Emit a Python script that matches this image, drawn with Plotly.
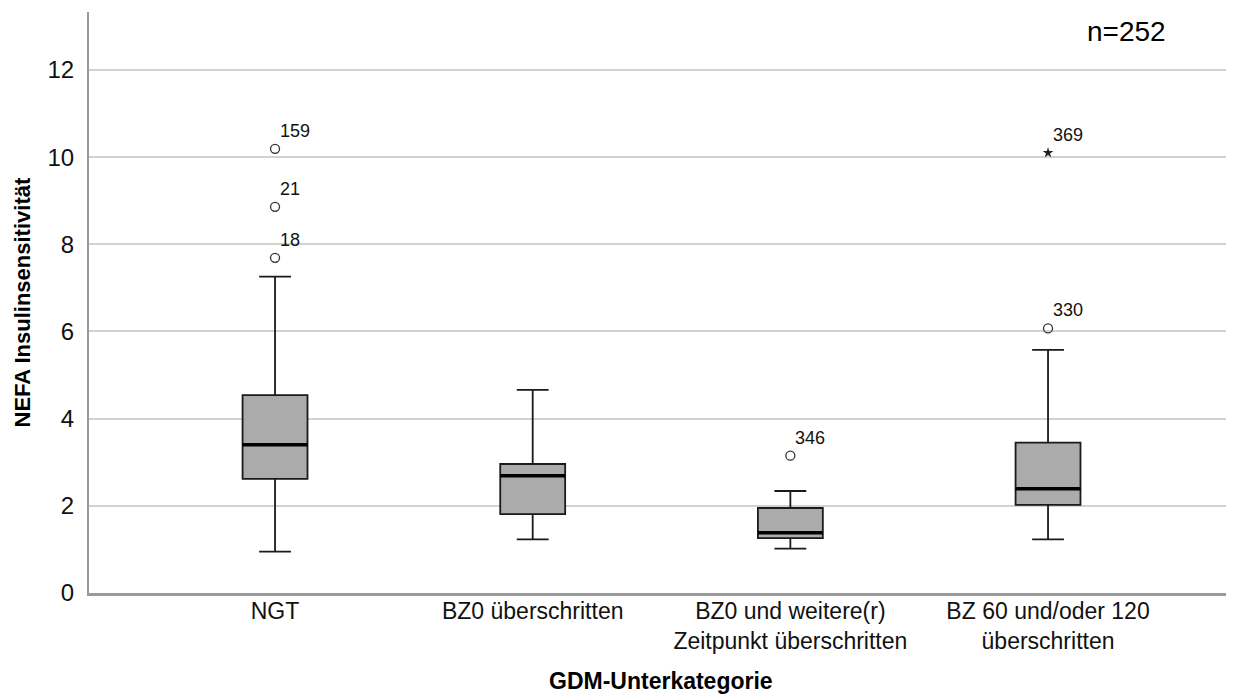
import plotly.graph_objects as go

# ---- data ----
categories = ["NGT", "BZ0 überschritten",
              "BZ0 und weitere(r)<br>Zeitpunkt überschritten",
              "BZ 60 und/oder 120<br>überschritten"]
lower_whisker = [0.95, 1.23, 1.02, 1.23]
q1_values = [2.62, 1.81, 1.26, 2.02]
median_values = [3.40, 2.69, 1.38, 2.39]
q3_values = [4.54, 2.96, 1.95, 3.45]
upper_whisker = [7.26, 4.66, 2.34, 5.58]

outlier_category = [0, 0, 0, 2, 3]
outlier_values = [10.19, 8.86, 7.69, 3.15, 6.07]
outlier_ids = ["159", "21", "18", "346", "330"]

extreme_category = [3]
extreme_values = [10.10]
extreme_ids = ["369"]

y_ticks = [0, 2, 4, 6, 8, 10, 12]
n_label = "n=252"
x_title = "GDM-Unterkategorie"
y_title = "NEFA Insulinsensitivität"

# ---- styling ----
FONT = "Liberation Sans, Arial, Helvetica, sans-serif"
BOX_WIDTH = 0.252
BOX_PX = 65

fig = go.Figure()

fig.add_trace(go.Box(
    x=categories,
    q1=q1_values, median=median_values, q3=q3_values,
    lowerfence=lower_whisker, upperfence=upper_whisker,
    boxpoints=False,
    width=BOX_WIDTH,
    whiskerwidth=0.49,
    fillcolor="#ababab",
    line=dict(color="#1a1a1a", width=1.8),
    showlegend=False, hoverinfo="skip",
))

# thick median line
fig.add_trace(go.Scatter(
    x=categories, y=median_values, mode="markers",
    marker=dict(symbol="line-ew", size=BOX_PX / 1.4,
                line=dict(color="black", width=3.5)),
    showlegend=False, hoverinfo="skip",
))

# outliers
fig.add_trace(go.Scatter(
    x=[categories[i] for i in outlier_category], y=outlier_values,
    mode="markers",
    marker=dict(symbol="circle-open", size=9, color="#333333",
                line=dict(width=1.3)),
    showlegend=False, hoverinfo="skip",
))

# extremes
fig.add_trace(go.Scatter(
    x=[categories[i] for i in extreme_category], y=extreme_values,
    mode="markers",
    marker=dict(symbol="star", size=8, color="#222222"),
    showlegend=False, hoverinfo="skip",
))

annotations = []
for ci, v, lab in zip(outlier_category + extreme_category,
                      outlier_values + extreme_values,
                      outlier_ids + extreme_ids):
    annotations.append(dict(
        x=ci, y=v, xref="x", yref="y", text=lab, showarrow=False,
        xanchor="left", yanchor="middle", xshift=3, yshift=18,
        font=dict(family=FONT, size=18, color="#111111"),
    ))

annotations.append(dict(
    x=0.5, y=0, xref="paper", yref="paper", text=f"<b>{x_title}</b>",
    showarrow=False, xanchor="center", yanchor="middle", yshift=-88,
    font=dict(family=FONT, size=23, color="black"),
))
annotations.append(dict(
    x=0, y=0.5, xref="paper", yref="paper", text=f"<b>{y_title}</b>",
    showarrow=False, xanchor="center", yanchor="middle", xshift=-67,
    textangle=-90,
    font=dict(family=FONT, size=22, color="black"),
))
annotations.append(dict(
    x=0.908, y=1, xref="paper", yref="paper", text=n_label,
    showarrow=False, xanchor="center", yanchor="middle", yshift=-19,
    font=dict(family=FONT, size=28, color="black"),
))

fig.update_layout(
    width=1226, height=689,
    margin=dict(l=81, r=2, t=4, b=104),
    paper_bgcolor="white", plot_bgcolor="white",
    font=dict(family=FONT, color="#111111"),
    annotations=annotations,
    showlegend=False,
)

fig.update_xaxes(
    type="category",
    range=[-0.722, 3.714],
    showgrid=False, zeroline=False,
    showline=True, linecolor="#9a9a9a", linewidth=2.5,
    ticks="", tickfont=dict(family=FONT, size=23, color="#111111"),
    ticklabelstandoff=-4,
)

fig.update_yaxes(
    range=[0, 13.33],
    tickvals=y_ticks,
    showgrid=True, gridcolor="#d2d2d2", gridwidth=1.5,
    zeroline=False,
    showline=True, linecolor="#9a9a9a", linewidth=2,
    ticks="", tickfont=dict(family=FONT, size=24, color="#111111"),
    ticklabelstandoff=8,
)

fig.write_html("out.html")
